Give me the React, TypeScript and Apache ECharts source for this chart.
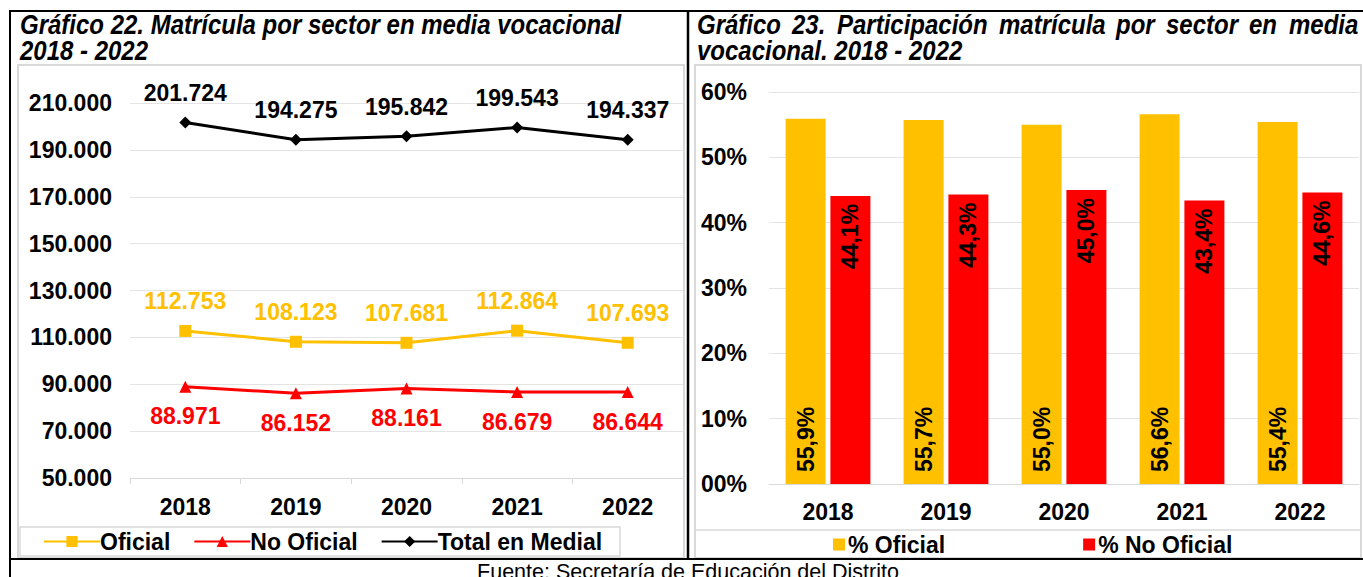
import React, { useEffect, useRef } from "react";
import * as echarts from "echarts";

const years = ["2018", "2019", "2020", "2021", "2022"];
const oficial = [112753, 108123, 107681, 112864, 107693];
const noOficial = [88971, 86152, 88161, 86679, 86644];
const total = [201724, 194275, 195842, 199543, 194337];
const pctOficial = [55.9, 55.7, 55.0, 56.6, 55.4];
const pctNoOficial = [44.1, 44.3, 45.0, 43.4, 44.6];

const leftTitle1 = "Gráfico 22. Matrícula por sector en media vocacional";
const leftTitle2 = "2018 - 2022";
const rightTitle1 = "Gráfico 23. Participación matrícula por sector en media";
const rightTitle2 = "vocacional. 2018 - 2022";
const footer = "Fuente: Secretaría de Educación del Distrito";

// layout: x positions of the justified words of the right title's first line
const rightTitleWordX = [697, 792, 837, 999, 1116, 1166, 1249, 1289];

const YELLOW = "#FFC000";
const RED = "#FF0000";
const BLACK = "#000000";
const GRID = "#e4e4e4";
const BOX = "#d9d9d9";
const FONT = "'Liberation Sans', Arial, sans-serif";
const TSIZE = 24;
const TSCALEY = 1.18;

const fmtThousands = (v: number) =>
  String(Math.round(v)).replace(/\B(?=(\d{3})+(?!\d))/g, ".");
const fmtPct = (v: number) => v.toFixed(1).replace(".", ",") + "%";

function titleText(text: string, x: number, y: number) {
  return {
    type: "text",
    x,
    y,
    scaleY: TSCALEY,
    style: {
      text,
      fill: "#000",
      fontFamily: FONT,
      fontSize: TSIZE,
      fontWeight: "bold",
      fontStyle: "italic",
      align: "left",
      verticalAlign: "middle",
    },
  };
}

function justifiedLine(text: string, xs: number[], y: number) {
  return text.split(" ").map((w, i) => titleText(w, xs[i], y));
}

export default function App() {
  const ref = useRef<HTMLDivElement>(null);
  useEffect(() => {
    if (!ref.current) return;
    const chart = echarts.init(ref.current, undefined, { renderer: "svg" });

    const lineLabel = (color: string, pos: string) => ({
      show: true,
      position: pos,
      distance: 12,
      color,
      fontFamily: FONT,
      fontWeight: "bold",
      fontSize: 23,
      formatter: (p: any) => fmtThousands(p.value),
    });

    const axisText = {
      color: BLACK,
      fontWeight: "bold",
      fontSize: 23,
      fontFamily: FONT,
    };

    const option: any = {
      animation: false,
      backgroundColor: "#fff",
      textStyle: { fontFamily: FONT },
      grid: [
        { left: 130, right: 680, top: 103, bottom: 99 },
        { left: 769, right: 4, top: 92, bottom: 93 },
      ],
      xAxis: [
        {
          type: "category",
          gridIndex: 0,
          data: years,
          axisLine: { show: true, lineStyle: { color: BOX, width: 1 } },
          axisTick: { show: true, length: 6, lineStyle: { color: BOX } },
          axisLabel: { margin: 17, ...axisText },
        },
        {
          type: "category",
          gridIndex: 1,
          data: years,
          axisLine: { show: true, lineStyle: { color: BOX, width: 1 } },
          axisTick: { show: false },
          axisLabel: { margin: 16, ...axisText },
        },
      ],
      yAxis: [
        {
          type: "value",
          gridIndex: 0,
          min: 50000,
          max: 210000,
          interval: 20000,
          axisLine: { show: false },
          axisTick: { show: false },
          splitLine: { lineStyle: { color: GRID, width: 1 } },
          axisLabel: {
            margin: 18,
            ...axisText,
            formatter: (v: number) => fmtThousands(v),
          },
        },
        {
          type: "value",
          gridIndex: 1,
          min: 0,
          max: 60,
          interval: 10,
          axisLine: { show: false },
          axisTick: { show: false },
          splitLine: { lineStyle: { color: GRID, width: 1 } },
          axisLabel: {
            margin: 22,
            ...axisText,
            formatter: (v: number) => (v < 10 ? "0" + v : String(v)) + "%",
          },
        },
      ],
      legend: [
        {
          data: ["Oficial", "No Oficial", "Total en Medial"],
          left: 38,
          top: 525,
          itemWidth: 56,
          itemHeight: 14,
          itemGap: 23,
          textStyle: { ...axisText, padding: [0, 0, 0, -5] },
        },
        {
          data: ["% Oficial", "% No Oficial"],
          left: 828,
          top: 528,
          icon: "rect",
          itemWidth: 12,
          itemHeight: 12,
          itemGap: 138,
          textStyle: { ...axisText, padding: [0, 0, 0, -2] },
        },
      ],
      series: [
        {
          name: "Oficial",
          type: "line",
          xAxisIndex: 0,
          yAxisIndex: 0,
          data: oficial,
          color: YELLOW,
          symbol: "rect",
          symbolSize: 12,
          lineStyle: { width: 3, color: YELLOW },
          itemStyle: { color: YELLOW },
          label: lineLabel(YELLOW, "top"),
        },
        {
          name: "No Oficial",
          type: "line",
          xAxisIndex: 0,
          yAxisIndex: 0,
          data: noOficial,
          color: RED,
          symbol: "triangle",
          symbolSize: 12,
          lineStyle: { width: 3, color: RED },
          itemStyle: { color: RED },
          label: lineLabel(RED, "bottom"),
        },
        {
          name: "Total en Medial",
          type: "line",
          xAxisIndex: 0,
          yAxisIndex: 0,
          data: total,
          color: BLACK,
          symbol: "diamond",
          symbolSize: 12,
          lineStyle: { width: 3, color: BLACK },
          itemStyle: { color: BLACK },
          label: lineLabel(BLACK, "top"),
        },
        {
          name: "% Oficial",
          type: "bar",
          xAxisIndex: 1,
          yAxisIndex: 1,
          data: pctOficial,
          color: YELLOW,
          barWidth: 40,
          barGap: "12%",
          itemStyle: { color: YELLOW },
          label: {
            show: true,
            position: "insideBottom",
            rotate: 90,
            align: "left",
            verticalAlign: "middle",
            distance: 12,
            ...axisText,
            formatter: (p: any) => fmtPct(p.value),
          },
        },
        {
          name: "% No Oficial",
          type: "bar",
          xAxisIndex: 1,
          yAxisIndex: 1,
          data: pctNoOficial,
          color: RED,
          barWidth: 40,
          barGap: "12%",
          itemStyle: { color: RED },
          label: {
            show: true,
            position: "insideTop",
            rotate: 90,
            align: "right",
            verticalAlign: "middle",
            distance: 8,
            ...axisText,
            formatter: (p: any) => fmtPct(p.value),
          },
        },
      ],
      graphic: [
        {
          type: "rect",
          shape: { x: 18, y: 65, width: 666, height: 493 },
          style: { fill: "none", stroke: BOX, lineWidth: 2 },
          z: 0,
        },
        {
          type: "rect",
          shape: { x: 695, y: 65, width: 666, height: 493 },
          style: { fill: "none", stroke: BOX, lineWidth: 2 },
          z: 0,
        },
        {
          type: "rect",
          shape: { x: 20, y: 527, width: 600, height: 29 },
          style: { fill: "none", stroke: BOX, lineWidth: 1.5 },
        },
        {
          type: "line",
          shape: { x1: 696, y1: 530, x2: 1360, y2: 530 },
          style: { stroke: BOX, lineWidth: 1.5 },
        },
        {
          type: "line",
          shape: { x1: 10, y1: 11, x2: 1363, y2: 11 },
          style: { stroke: "#000", lineWidth: 2 },
        },
        {
          type: "line",
          shape: { x1: 10, y1: 10, x2: 10, y2: 577 },
          style: { stroke: "#000", lineWidth: 2 },
        },
        {
          type: "line",
          shape: { x1: 688, y1: 11, x2: 688, y2: 559 },
          style: { stroke: "#000", lineWidth: 2.5 },
        },
        {
          type: "line",
          shape: { x1: 10, y1: 559, x2: 1363, y2: 559 },
          style: { stroke: "#000", lineWidth: 2 },
        },
        titleText(leftTitle1, 20, 24),
        titleText(leftTitle2, 20, 50),
        ...justifiedLine(rightTitle1, rightTitleWordX, 24),
        titleText(rightTitle2, 697, 50),
        {
          type: "text",
          x: 688,
          y: 561,
          style: {
            text: footer,
            fill: "#000",
            fontFamily: FONT,
            fontSize: 21.5,
            align: "center",
            verticalAlign: "top",
          },
        },
      ],
    };
    chart.setOption(option);
    return () => chart.dispose();
  }, []);
  return (
    <div
      ref={ref}
      style={{ position: "fixed", left: 0, top: 0, width: 1363, height: 577 }}
    />
  );
}
